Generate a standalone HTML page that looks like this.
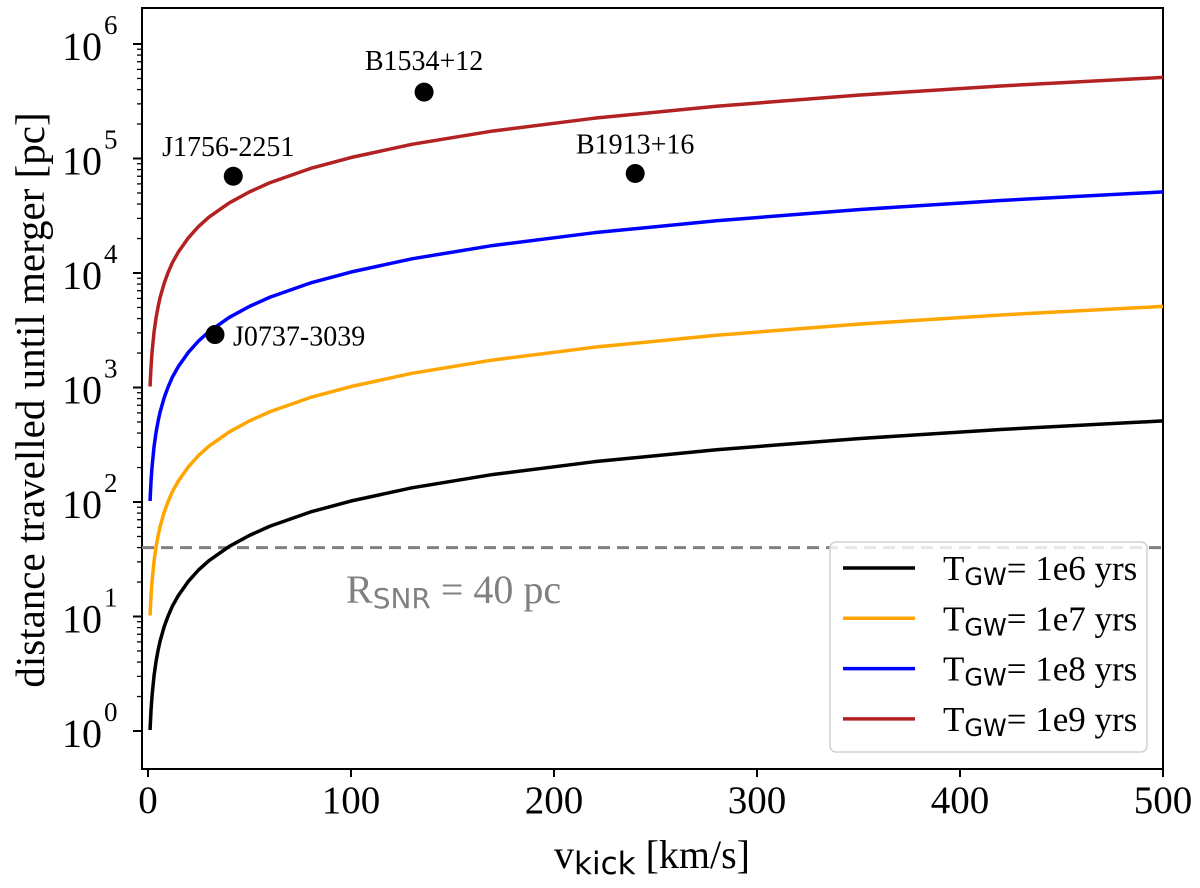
<!DOCTYPE html>
<html><head><meta charset="utf-8"><style>
body{margin:0;background:#fff}
svg{display:block;font-family:"Liberation Serif",serif}
</style></head><body>
<svg id="chart" width="1200" height="888" viewBox="0 0 1200 888"></svg>
<script>
const velocities=[1,1.5,2,3,4,5,6,8,10,12,15,20,25,30,40,50,60,80,100,130,170,220,280,350,420,500];
const dist1e6=[1.02,1.53,2.04,3.07,4.09,5.11,6.14,8.18,10.2,12.3,15.3,20.4,25.6,30.7,40.9,51.1,61.4,81.8,102,133,174,225,286,358,430,511];
const dist1e7=dist1e6.map(d=>d*10);
const dist1e8=dist1e6.map(d=>d*100);
const dist1e9=dist1e6.map(d=>d*1000);
const seriesLabels=["1e6","1e7","1e8","1e9"];
const seriesColors=["#000000","#ffa500","#0000ff","#b22222"];
const pulsarNames=["J1756-2251","B1534+12","B1913+16","J0737-3039"];
const pulsarV=[42,136,240,33];
const pulsarD=[70000,380000,74000,2900];
const xTicks=[0,100,200,300,400,500];
const yTicks=[0,1,2,3,4,5,6];
const rSNR=40;

const NS="http://www.w3.org/2000/svg";
const svg=document.getElementById('chart');
const L=142,R=1163,T=8,B=769;
const x=v=>148+v*2.03;
const y=d=>731-Math.log10(d)*114.5;
function el(t,a,p){const e=document.createElementNS(NS,t);for(const k in a)e.setAttribute(k,a[k]);(p||svg).appendChild(e);return e;}

const frame=el('rect',{x:L,y:T,width:R-L,height:B-T,fill:'none',stroke:'#000','stroke-width':2});



xTicks.forEach(v=>{
  const g=el('g',{});
  
  
  el('line',{x1:x(v),x2:x(v),y1:B,y2:B+8,stroke:'#000','stroke-width':2},g);
  const t=el('text',{x:x(v),y:B+44,'text-anchor':'middle','font-size':39},g);t.textContent=v;
});
yTicks.forEach(p=>{
  const g=el('g',{});
  
  
  const yy=y(Math.pow(10,p));
  el('line',{x1:L-9,x2:L,y1:yy,y2:yy,stroke:'#000','stroke-width':2},g);
  const t=el('text',{x:L-40,y:yy+16,'text-anchor':'end','font-size':40},g);t.textContent='10';
  const s=el('text',{x:L-38,y:yy-10,'text-anchor':'start','font-size':27},g);s.textContent=p;
  if(p<6)for(let m=2;m<10;m++){const ym=y(m*Math.pow(10,p));
    el('line',{x1:L-5,x2:L,y1:ym,y2:ym,stroke:'#000','stroke-width':1.3},g);}
});
const xt=el('text',{x:652,y:868,'text-anchor':'middle','font-size':40});


xt.innerHTML='v<tspan font-family="DejaVu Sans, sans-serif" font-size="31" dy="6">kick</tspan><tspan dy="-6"> [km/s]</tspan>';
const yt=el('text',{x:0,y:0,'text-anchor':'middle','font-size':41,transform:'translate(44,400) rotate(-90)'});


yt.textContent='distance travelled until merger [pc]';

const rl=el('line',{x1:L,x2:R,y1:y(rSNR),y2:y(rSNR),stroke:'#808080','stroke-width':3,'stroke-dasharray':'12,7'});


const rt=el('text',{x:346,y:603,'font-size':40,fill:'#808080'});


rt.innerHTML='R<tspan font-family="DejaVu Sans, sans-serif" font-size="28" dy="5">SNR</tspan><tspan dy="-5"> =  40 pc</tspan>';

const allSeries=[dist1e6,dist1e7,dist1e8,dist1e9];
allSeries.forEach((ds,i)=>{
  const pts=velocities.map((v,j)=>x(v)+','+y(ds[j])).join(' ');
  const pl=el('polyline',{points:pts,fill:'none',stroke:seriesColors[i],'stroke-width':3.5,'stroke-linejoin':'round'});
  
  
});

const lblOff=[[-5,-20,'middle'],[0,-22,'middle'],[0,-20,'middle'],[18,11,'start']];
pulsarNames.forEach((n,i)=>{
  const g=el('g',{});
  
  
  const cx=x(pulsarV[i]),cy=y(pulsarD[i]);
  el('circle',{cx:cx,cy:cy,r:9.5,fill:'#000'},g);
  const t=el('text',{x:cx+lblOff[i][0],y:cy+lblOff[i][1],'text-anchor':lblOff[i][2],'font-size':28},g);t.textContent=n;
});

const lg=el('g',{});


el('rect',{x:830,y:542,width:317,height:210,rx:6,fill:'#fff','fill-opacity':0.8,stroke:'#d0d0d0','stroke-width':1.5},lg);
seriesLabels.forEach((s,i)=>{
  const g=el('g',{},lg);
  
  
  const yy=568+i*50.3;
  el('line',{x1:843,x2:915,y1:yy,y2:yy,stroke:seriesColors[i],'stroke-width':3.5},g);
  const t=el('text',{x:943,y:yy+12,'font-size':35},g);
  t.innerHTML='T<tspan font-family="DejaVu Sans, sans-serif" font-size="24" dy="5">GW</tspan><tspan dy="-5">= '+s+' yrs</tspan>';
});
</script>
</body></html>
